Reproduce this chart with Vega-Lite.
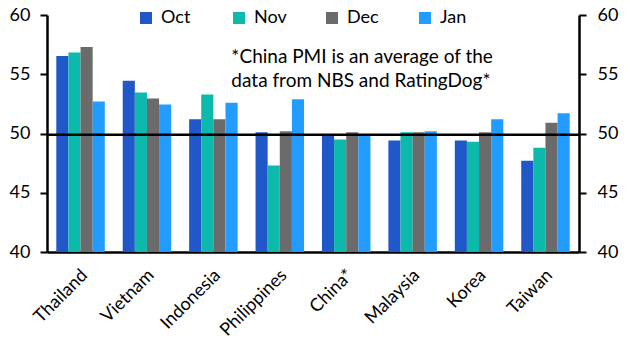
{
  "$schema": "https://vega.github.io/schema/vega-lite/v6.json",
  "width": 532,
  "height": 237,
  "autosize": {"type": "none"},
  "padding": {"left": 47, "top": 15, "right": 51, "bottom": 105},
  "background": "white",
  "config": {
    "font": "Lato",
    "view": {"stroke": null},
    "axis": {"labelFont": "Lato", "labelFontSize": 18, "labelColor": "#000", "domainColor": "#000", "tickColor": "#000", "grid": false, "title": null}
  },
  "datasets": {
    "pmi": [
      {"country": "Thailand", "month": "Oct", "value": 56.55},
      {"country": "Thailand", "month": "Nov", "value": 56.83},
      {"country": "Thailand", "month": "Dec", "value": 57.3},
      {"country": "Thailand", "month": "Jan", "value": 52.7},
      {"country": "Vietnam", "month": "Oct", "value": 54.45},
      {"country": "Vietnam", "month": "Nov", "value": 53.45},
      {"country": "Vietnam", "month": "Dec", "value": 52.95},
      {"country": "Vietnam", "month": "Jan", "value": 52.45},
      {"country": "Indonesia", "month": "Oct", "value": 51.2},
      {"country": "Indonesia", "month": "Nov", "value": 53.3},
      {"country": "Indonesia", "month": "Dec", "value": 51.2},
      {"country": "Indonesia", "month": "Jan", "value": 52.6},
      {"country": "Philippines", "month": "Oct", "value": 50.1},
      {"country": "Philippines", "month": "Nov", "value": 47.3},
      {"country": "Philippines", "month": "Dec", "value": 50.2},
      {"country": "Philippines", "month": "Jan", "value": 52.9},
      {"country": "China*", "month": "Oct", "value": 49.9},
      {"country": "China*", "month": "Nov", "value": 49.5},
      {"country": "China*", "month": "Dec", "value": 50.1},
      {"country": "China*", "month": "Jan", "value": 49.8},
      {"country": "Malaysia", "month": "Oct", "value": 49.4},
      {"country": "Malaysia", "month": "Nov", "value": 50.1},
      {"country": "Malaysia", "month": "Dec", "value": 50.1},
      {"country": "Malaysia", "month": "Jan", "value": 50.2},
      {"country": "Korea", "month": "Oct", "value": 49.4},
      {"country": "Korea", "month": "Nov", "value": 49.3},
      {"country": "Korea", "month": "Dec", "value": 50.1},
      {"country": "Korea", "month": "Jan", "value": 51.2},
      {"country": "Taiwan", "month": "Oct", "value": 47.7},
      {"country": "Taiwan", "month": "Nov", "value": 48.8},
      {"country": "Taiwan", "month": "Dec", "value": 50.9},
      {"country": "Taiwan", "month": "Jan", "value": 51.7}
    ],
    "note": [
      {"country": "Indonesia", "value": 56.45, "text": ["*China PMI is an average of the", "data from NBS and RatingDog*"]}
    ],
    "ref": [{"value": 49.9}]
  },
  "layer": [
    {
      "data": {"name": "pmi"},
      "mark": {"type": "bar"},
      "encoding": {
        "x": {
          "field": "country", "type": "nominal", "sort": null,
          "scale": {"paddingInner": 0.27, "paddingOuter": 0.14},
          "axis": {"labelAngle": -45, "ticks": false, "domainWidth": 2.5, "labelPadding": 14, "labelOffset": -2, "labelFontSize": 18}
        },
        "xOffset": {"field": "month", "type": "nominal", "sort": ["Oct", "Nov", "Dec", "Jan"]},
        "y": {
          "field": "value", "type": "quantitative",
          "scale": {"domain": [40, 60], "zero": false, "nice": false},
          "axis": {"orient": "left", "values": [40, 45, 50, 55, 60], "tickSize": 7, "tickWidth": 2, "domainWidth": 2.5, "labelPadding": 10}
        },
        "y2": {"datum": 40},
        "color": {
          "field": "month", "type": "nominal", "sort": ["Oct", "Nov", "Dec", "Jan"],
          "scale": {"domain": ["Oct", "Nov", "Dec", "Jan"], "range": ["#2058C9", "#0CB9AA", "#6B6B6B", "#229CFF"]},
          "legend": {
            "orient": "none", "legendX": 90, "legendY": -6, "direction": "horizontal", "title": null,
            "symbolType": "square", "symbolSize": 144, "symbolStrokeWidth": 0, "symbolOpacity": 1,
            "labelFontSize": 18, "labelFont": "Lato", "labelColor": "#000", "labelOffset": 6,
            "gridAlign": "all", "columnPadding": 36
          }
        }
      }
    },
    {
      "data": {"name": "ref"},
      "mark": {"type": "rule", "color": "#000", "strokeWidth": 2.5},
      "encoding": {
        "y": {
          "field": "value", "type": "quantitative",
          "axis": {"orient": "right", "values": [40, 45, 50, 55, 60], "tickSize": 7, "tickWidth": 2, "domainWidth": 2.5, "labelPadding": 11}
        }
      }
    },
    {
      "data": {"name": "note"},
      "mark": {"type": "text", "align": "left", "baseline": "middle", "fontSize": 19, "font": "Lato", "lineHeight": 24, "dx": 18, "color": "#000"},
      "encoding": {
        "x": {"field": "country", "type": "nominal", "sort": null},
        "y": {"field": "value", "type": "quantitative", "axis": null},
        "text": {"field": "text"}
      }
    }
  ],
  "resolve": {"axis": {"y": "independent"}}
}
